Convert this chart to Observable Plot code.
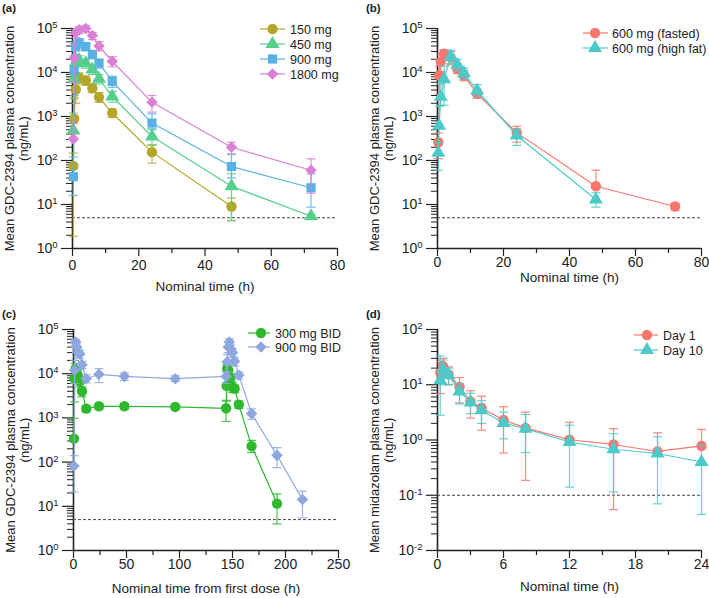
<!DOCTYPE html>
<html>
<head>
<meta charset="utf-8">
<script src="https://cdn.jsdelivr.net/npm/d3@7"></script>
<script src="https://cdn.jsdelivr.net/npm/@observablehq/plot@0.6"></script>
<style>
  html, body { margin: 0; padding: 0; background: #fff; }
  #wrap { position: relative; width: 709px; height: 598px; overflow: hidden; }
  .panel { position: absolute; width: 354px; height: 298px; }
</style>
</head>
<body>
<div id="wrap"></div>
<script>
// ---------------- DATA ----------------
// Panel (a): single ascending doses
const a150Time = [0.25, 0.5, 1, 2, 4, 6, 8, 12, 24, 48];
const a150Mean = [75, 890, 4100, 7600, 6600, 4400, 2750, 1200, 155, 9];
const a150Hi   = [148, 2700, 7200, 9800, 8300, 5500, 3500, 1500, 219, 14];
const a150Lo   = [1.9, null, 2000, 5500, 5100, 3500, 2100, 950, 87, 4.3];

const a450Time = [0.25, 0.5, 1, 2, 4, 6, 8, 12, 24, 48, 72];
const a450Mean = [480, 7000, 17000, 18800, 16300, 11700, 7200, 2850, 350, 26, 5.4];
const a450Hi   = [1200, 14000, 26000, 24000, 20000, 14500, 9000, 3700, 500, 50, 6];
const a450Lo   = [null, 2500, 9000, 13500, 12500, 9000, 5500, 2100, 230, 4.3, 4.8];

const a900Time = [0.25, 0.5, 1, 2, 4, 6, 8, 12, 24, 48, 72];
const a900Mean = [43, 11000, 38000, 47000, 39000, 25800, 16300, 6300, 710, 73, 24];
const a900Hi   = [120, 24000, 52000, 58000, 47000, 31000, 20000, 8200, 1150, 137, 50];
const a900Lo   = [16, 3000, 25000, 36000, 31000, 20500, 12500, 4600, 525, 40, 8.7];

const a1800Time = [0.25, 0.5, 1, 2, 4, 6, 8, 12, 24, 48, 72];
const a1800Mean = [310, 21000, 80000, 93000, 100000, 69000, 40000, 18000, 2100, 200, 60];
const a1800Hi   = [700, 45000, 95000, 110000, 118000, 82000, 50000, 23000, 3000, 260, 109];
const a1800Lo   = [null, 6000, 62000, 76000, 83000, 56000, 31000, 13500, 1260, 141, 18];

// Panel (b): food effect, 600 mg
const bFastTime = [0.25, 0.5, 1, 2, 4, 6, 8, 12, 24, 48, 72];
const bFastMean = [260, 8600, 17800, 26800, 22000, 12000, 8500, 3300, 430, 26, 9];
const bFastHi   = [420, 14000, 25000, 33000, 30000, 16000, 11000, 4200, 600, 60, 10.8];
const bFastLo   = [110, 3200, 10500, 20500, 15000, 9500, 6500, 2600, 260, null, 7.4];

const bFatTime = [0.25, 0.5, 1, 2, 4, 6, 8, 12, 24, 48];
const bFatMean = [150, 620, 2800, 7000, 23000, 15000, 9700, 3900, 370, 13];
const bFatHi   = [250, 1700, 5500, 14000, 32000, 20000, 12500, 5300, 520, 18.5];
const bFatLo   = [60, null, 1800, 1800, 16000, 11000, 7000, 2900, 220, 8.7];

// Panel (c): multiple dose BID
const c300Time = [0.5, 1, 2, 4, 6, 8, 12, 24, 48, 96, 144, 144.5, 145, 146, 148, 150, 152, 156, 168, 192];
const c300Mean = [340, 7700, 13000, 9200, 6700, 4000, 1620, 1830, 1830, 1770, 1650, 5300, 13000, 12000, 8000, 5000, 4600, 2000, 230, 11.5];
const c300Hi   = [980, 12000, 17000, 12000, 8500, 5000, 1900, 2100, 2050, 2000, 2400, 8000, 16000, 15000, 10000, 6500, 5500, 2400, 310, 19];
const c300Lo   = [null, 2300, 8500, 6500, 5000, 3000, 1350, 1550, 1600, 1550, 830, 2500, 9000, 8500, 5500, 3800, 3700, 1650, 165, 4];

const c900Time = [0.5, 1, 2, 3, 4, 6, 8, 12, 24, 48, 96, 144, 145, 146, 147, 148, 150, 152, 156, 168, 192, 216];
const c900Mean = [82, 12000, 52000, 40000, 31000, 28000, 16000, 7700, 9700, 8700, 7700, 8700, 18500, 40000, 52000, 37000, 30000, 19000, 9200, 1250, 142, 14.3];
const c900Hi   = [140, 20000, 60000, 50000, 38000, 34000, 19000, 9500, 13000, 10500, 9000, 11000, 27000, 52000, 62000, 45000, 36000, 23000, 11000, 1600, 212, 22];
const c900Lo   = [21, 6000, 44000, 30000, 24000, 22000, 13000, 6200, 6300, 7000, 6700, 6000, 11000, 30000, 42000, 29000, 24000, 15000, 7500, 930, 75, 5.5];

// Panel (d): midazolam
const dDay1Time = [0.25, 0.5, 1, 2, 3, 4, 6, 8, 12, 16, 20, 24];
const dDay1Mean = [16.6, 21.6, 15.5, 9.1, 5.0, 3.8, 2.3, 1.66, 1.01, 0.83, 0.62, 0.78];
const dDay1Hi   = [26, 30, 21, 13.5, 7.8, 6.2, 4.0, 3.2, 2.1, 1.6, 1.35, 1.55];
const dDay1Lo   = [6.9, 13, 10, 4.7, 2.5, 1.5, 0.58, 0.186, null, 0.055, null, null];

const dDay10Time = [0.25, 0.5, 1, 2, 3, 4, 6, 8, 12, 16, 20, 24];
const dDay10Mean = [12.1, 19, 15, 7.6, 4.8, 3.46, 2.03, 1.6, 0.92, 0.68, 0.57, 0.40];
const dDay10Hi   = [33, 28, 20, 10.5, 7, 5.2, 3.2, 2.9, 1.85, 1.3, 1.15, 0.8];
const dDay10Lo   = [2.8, 10, 10, 4.5, 3, 2.0, 1.05, 0.59, 0.14, 0.115, 0.07, 0.045];

// Axis ticks
const abXTicks = [0, 20, 40, 60, 80];
const abXMinor = [10, 30, 50, 70];
const cXTicks = [0, 50, 100, 150, 200, 250];
const cXMinor = [25, 75, 125, 175, 225];
const dXTicks = [0, 6, 12, 18, 24];
const dXMinor = [3, 9, 15, 21];
const gdcYTicks = [1, 10, 100, 1000, 10000, 100000];
const midYTicks = [0.01, 0.1, 1, 10, 100];
const gdcLLOQ = 5;
const midLLOQ = 0.1;

// ---------------- STYLE ----------------
const FONT = '"Liberation Sans", Arial, Helvetica, sans-serif';
const INK = "#222";
const colors = {
  c150: "#b3a629", c450: "#55cf8b", c900: "#59b1e3", c1800: "#d981d5",
  fasted: "#f8766d", highfat: "#4ccaca",
  bid300: "#2db82d", bid900: "#8ea8df"
};
const SYM = {circle: d3.symbolCircle, triangle: d3.symbolTriangle, square: d3.symbolSquare, diamond2: d3.symbolDiamond2};
const capSymbol = {
  draw(ctx, size) { const r = Math.sqrt(size / Math.PI); ctx.moveTo(-r, 0); ctx.lineTo(r, 0); }
};

function minorLog(lo, hi) {
  const out = [];
  for (let e = Math.round(Math.log10(lo)); e < Math.round(Math.log10(hi)); e++) {
    for (let m = 2; m <= 9; m++) out.push(m * Math.pow(10, e));
  }
  return out;
}

function makePanel(cfg) {
  const marks = [];
  // axis lines
  marks.push(Plot.ruleY([cfg.yDomain[0]], {stroke: INK, strokeWidth: 1.6}));
  marks.push(Plot.ruleX([cfg.xDomain[0]], {stroke: INK, strokeWidth: 1.6}));
  // LLOQ
  marks.push(Plot.ruleY([cfg.lloq], {stroke: "#444", strokeWidth: 1, strokeDasharray: "3,2"}));
  // ticks
  marks.push(Plot.axisY(minorLog(cfg.yDomain[0], cfg.yDomain[1]), {tickSize: 6, tickFormat: () => "", label: null, stroke: INK, strokeWidth: 1}));
  marks.push(Plot.axisY(cfg.yTicks, {tickSize: 11, tickPadding: 4, fontSize: 14,
    tickFormat: d => "10^" + Math.round(Math.log10(d)), label: null, stroke: INK, strokeWidth: 1.2}));
  marks.push(Plot.axisX(cfg.xMinor, {tickSize: 5, tickFormat: () => "", label: null, stroke: INK, strokeWidth: 1.2}));
  marks.push(Plot.axisX(cfg.xTicks, {tickSize: 8, tickPadding: cfg.xTickPad, fontSize: 14, label: null, stroke: INK, strokeWidth: 1.2}));
  // data
  for (const s of cfg.series) {
    const rows = s.t.map((t, i) => ({t, v: s.mean[i], hi: s.hi[i], lo: s.lo[i]}));
    const hiRows = rows.filter(d => d.hi != null);
    const loRows = rows.filter(d => d.lo != null);
    const eb = {stroke: s.color, strokeWidth: 1.2, strokeOpacity: 0.85};
    marks.push(Plot.ruleX(hiRows, {x: "t", y1: "v", y2: "hi", ...eb}));
    marks.push(Plot.ruleX(loRows, {x: "t", y1: "lo", y2: "v", ...eb}));
    marks.push(Plot.dot(hiRows, {x: "t", y: "hi", symbol: capSymbol, r: 4.5, fill: "none", ...eb}));
    marks.push(Plot.dot(loRows, {x: "t", y: "lo", symbol: capSymbol, r: 4.5, fill: "none", ...eb}));
    marks.push(Plot.line(rows, {x: "t", y: "v", stroke: s.color, strokeWidth: 1.2}));
    marks.push(Plot.dot(rows, {x: "t", y: "v", symbol: s.symbol, r: 5.2, fill: s.color, stroke: "none"}));
  }
  // axis titles
  marks.push(Plot.text([cfg.xLabel], {text: d => d, frameAnchor: "bottom", dy: cfg.xLabelDy,
    lineAnchor: "middle", fontSize: 13.5, fill: INK}));
  marks.push(Plot.text([cfg.yLabel], {text: d => d, frameAnchor: "left", dx: -69, rotate: -90,
    lineAnchor: "top", textAnchor: "middle", lineHeight: 1.1, fontSize: 13, fill: INK}));

  const svg = Plot.plot({
    width: 354, height: 298,
    marginLeft: cfg.m[3], marginRight: cfg.m[1], marginTop: cfg.m[0], marginBottom: cfg.m[2],
    style: {fontFamily: FONT, fontSize: "13px", color: INK, background: "#fff", overflow: "visible"},
    x: {domain: cfg.xDomain, label: null},
    y: {type: "log", domain: cfg.yDomain, label: null},
    marks
  });

  // superscript exponents on y tick labels
  const ns = "http://www.w3.org/2000/svg";
  svg.querySelectorAll("text").forEach(t => {
    const m = /^10\^(-?\d+)$/.exec(t.textContent);
    if (!m) return;
    t.textContent = "";
    const base = document.createElementNS(ns, "tspan");
    base.textContent = "10";
    const sup = document.createElementNS(ns, "tspan");
    sup.textContent = m[1];
    sup.setAttribute("dy", "-0.5em");
    sup.setAttribute("font-size", "9.5");
    t.append(base, sup);
  });

  // legend
  const sel = d3.select(svg);
  const g = sel.append("g").attr("font-family", FONT).attr("font-size", 12.5).attr("text-anchor", "start");
  cfg.series.forEach((s, i) => {
    const y = cfg.legend.rows[i];
    g.append("line").attr("x1", cfg.legend.x1).attr("x2", cfg.legend.x2)
      .attr("y1", y).attr("y2", y).attr("stroke", s.color).attr("stroke-width", 1.2);
    g.append("path").attr("d", d3.symbol(SYM[s.symbol], Math.PI * 27)())
      .attr("transform", `translate(${cfg.legend.mx},${y})`).attr("fill", s.color);
    g.append("text").attr("x", cfg.legend.tx).attr("y", y).attr("dy", "0.36em")
      .attr("text-anchor", "start").attr("fill", INK).text(s.name);
  });
  // panel tag
  sel.append("text").attr("x", cfg.tag[1]).attr("y", cfg.tag[2]).attr("font-family", FONT)
    .attr("text-anchor", "start")
    .attr("font-weight", "bold").attr("font-size", 11.5).attr("fill", INK).text(cfg.tag[0]);

  const div = document.createElement("div");
  div.className = "panel";
  div.style.left = cfg.pos[0] + "px";
  div.style.top = cfg.pos[1] + "px";
  div.appendChild(svg);
  document.getElementById("wrap").appendChild(div);
}

const gdcLabel = "Mean GDC-2394 plasma concentration\n(ng/mL)";

makePanel({
  pos: [0, 0], m: [28, 17, 50, 72], tag: ["(a)", 2, 12],
  xDomain: [0, 80], xTicks: abXTicks, xMinor: abXMinor, xTickPad: 4, xLabelDy: 38,
  yDomain: [1, 100000], yTicks: gdcYTicks, lloq: gdcLLOQ,
  xLabel: "Nominal time (h)", yLabel: gdcLabel,
  legend: {rows: [29, 44, 59, 74], x1: 260, x2: 285, mx: 272.5, tx: 290},
  series: [
    {name: "150 mg", color: colors.c150, symbol: "circle", t: a150Time, mean: a150Mean, hi: a150Hi, lo: a150Lo},
    {name: "450 mg", color: colors.c450, symbol: "triangle", t: a450Time, mean: a450Mean, hi: a450Hi, lo: a450Lo},
    {name: "900 mg", color: colors.c900, symbol: "square", t: a900Time, mean: a900Mean, hi: a900Hi, lo: a900Lo},
    {name: "1800 mg", color: colors.c1800, symbol: "diamond2", t: a1800Time, mean: a1800Mean, hi: a1800Hi, lo: a1800Lo}
  ]
});

makePanel({
  pos: [355, 0], m: [28, 8, 50, 82], tag: ["(b)", 11, 12],
  xDomain: [0, 80], xTicks: abXTicks, xMinor: abXMinor, xTickPad: 1, xLabelDy: 29,
  yDomain: [1, 100000], yTicks: gdcYTicks, lloq: gdcLLOQ,
  xLabel: "Nominal time (h)", yLabel: gdcLabel,
  legend: {rows: [33, 48], x1: 228, x2: 253, mx: 240, tx: 257},
  series: [
    {name: "600 mg (fasted)", color: colors.fasted, symbol: "circle", t: bFastTime, mean: bFastMean, hi: bFastHi, lo: bFastLo},
    {name: "600 mg (high fat)", color: colors.highfat, symbol: "triangle", t: bFatTime, mean: bFatMean, hi: bFatHi, lo: bFatLo}
  ]
});

makePanel({
  pos: [0, 300], m: [29, 16, 48, 73], tag: ["(c)", 2, 18],
  xDomain: [0, 250], xTicks: cXTicks, xMinor: cXMinor, xTickPad: 1, xLabelDy: 38,
  yDomain: [1, 100000], yTicks: gdcYTicks, lloq: gdcLLOQ,
  xLabel: "Nominal time from first dose (h)", yLabel: gdcLabel,
  legend: {rows: [33, 47], x1: 248, x2: 270, mx: 261, tx: 275},
  series: [
    {name: "300 mg BID", color: colors.bid300, symbol: "circle", t: c300Time, mean: c300Mean, hi: c300Hi, lo: c300Lo},
    {name: "900 mg BID", color: colors.bid900, symbol: "diamond2", t: c900Time, mean: c900Mean, hi: c900Hi, lo: c900Lo}
  ]
});

makePanel({
  pos: [355, 300], m: [29, 8, 48, 82], tag: ["(d)", 11, 18],
  xDomain: [0, 24], xTicks: dXTicks, xMinor: dXMinor, xTickPad: 1, xLabelDy: 36,
  yDomain: [0.01, 100], yTicks: midYTicks, lloq: midLLOQ,
  xLabel: "Nominal time (h)", yLabel: "Mean midazolam plasma concentration\n(ng/mL)",
  legend: {rows: [35, 50], x1: 279, x2: 303, mx: 292, tx: 308},
  series: [
    {name: "Day 1", color: colors.fasted, symbol: "circle", t: dDay1Time, mean: dDay1Mean, hi: dDay1Hi, lo: dDay1Lo},
    {name: "Day 10", color: colors.highfat, symbol: "triangle", t: dDay10Time, mean: dDay10Mean, hi: dDay10Hi, lo: dDay10Lo}
  ]
});
</script>
</body>
</html>
